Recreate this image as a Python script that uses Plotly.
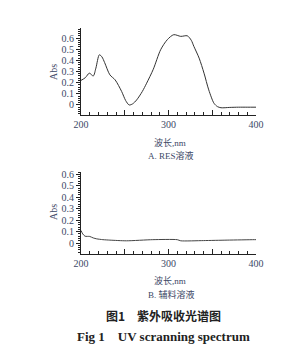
import plotly.graph_objects as go

# Panel A: RES solution
wl_a = [200, 205, 209.5, 214, 217, 221, 224, 227, 233, 239, 246.5, 251, 255, 259, 263.6,
        270, 275, 282.6, 291, 298.6, 306, 314, 321.5, 326, 329, 335, 340.6, 346, 352,
        356, 360, 370, 380, 390, 400]
abs_a = [0.22, 0.245, 0.285, 0.26, 0.33, 0.45, 0.43, 0.38, 0.27, 0.225, 0.12, 0.04, 0.0,
         0.01, 0.045, 0.12, 0.195, 0.32, 0.495, 0.585, 0.63, 0.615, 0.62, 0.58, 0.525,
         0.42, 0.285, 0.135, 0.015, -0.015, -0.025, -0.022, -0.02, -0.02, -0.02]

# Panel B: excipient solution
wl_b = [200, 202, 204.6, 210, 214, 218, 225, 233, 252, 282, 310, 314, 340, 367, 398, 400]
abs_b = [0.11, 0.08, 0.06, 0.058, 0.045, 0.037, 0.03, 0.026, 0.02, 0.03, 0.03, 0.02,
         0.022, 0.026, 0.03, 0.03]

y_ticks = [0, 0.1, 0.2, 0.3, 0.4, 0.5, 0.6]
y_tick_text = ["0", "0.1", "0.2", "0.3", "0.4", "0.5", "0.6"]
x_ticks = [200, 250, 300, 350, 400]
x_tick_text = ["200", "", "300", "", "400"]

W, H = 308, 350
SERIF = "Liberation Serif, Noto Sans CJK SC"
TXT = "#3c4866"
LINE = "#222"

fig = go.Figure()
fig.add_trace(go.Scatter(x=wl_a, y=abs_a, mode="lines", line=dict(color="#333", width=1, shape="spline", smoothing=0.8),
                         xaxis="x", yaxis="y", showlegend=False, hoverinfo="skip"))
fig.add_trace(go.Scatter(x=wl_b, y=abs_b, mode="lines", line=dict(color="#444", width=1, shape="spline", smoothing=0.6),
                         xaxis="x2", yaxis="y2", showlegend=False, hoverinfo="skip"))

def px(v):
    return v / W

def py(v):
    return 1 - v / H

xdom = [px(81), px(256)]

def xaxis(anchor):
    return dict(domain=xdom, range=[200, 400], anchor=anchor, automargin=False,
                showline=True, linecolor=LINE, linewidth=1,
                showgrid=False, zeroline=False, tickmode="array", tickvals=x_ticks, ticktext=x_tick_text,
                ticks="inside", ticklen=5, tickcolor=LINE, tickwidth=1,
                tickfont=dict(family=SERIF, size=10, color=TXT),
                minor=dict(dtick=10, tick0=200, ticks="inside", ticklen=3, tickcolor=LINE, showgrid=False))

def yaxis(anchor, dom, rng):
    return dict(domain=dom, range=rng, anchor=anchor, automargin=False,
                showline=True, linecolor=LINE, linewidth=1.2,
                showgrid=False, zeroline=False, tickmode="array", tickvals=y_ticks, ticktext=y_tick_text,
                ticks="outside", ticklen=4, tickcolor=LINE, tickwidth=1,
                tickfont=dict(family=SERIF, size=10, color=TXT),
                minor=dict(dtick=0.02, tick0=0, ticks="outside", ticklen=2, tickcolor=LINE, showgrid=False))

fig.update_layout(
    width=W, height=H, margin=dict(l=0, r=0, t=0, b=0),
    paper_bgcolor="white", plot_bgcolor="white",
    xaxis=xaxis("y"),
    yaxis=yaxis("x", [py(115), py(28)], [-0.09, 0.69]),
    xaxis2=xaxis("y2"),
    yaxis2=yaxis("x2", [py(254), py(172)], [-0.095, 0.62]),
)

def note(text, x, y, size, color=TXT, angle=0, bold=False, family=SERIF):
    if bold:
        text = "<b>" + text + "</b>"
    fig.add_annotation(text=text, x=px(x), y=py(y), xref="paper", yref="paper", showarrow=False,
                       xanchor="center", yanchor="middle", textangle=angle,
                       font=dict(family=family, size=size, color=color))

note("Abs", 53, 72, 10, angle=-90)
note("Abs", 53, 212, 10, angle=-90)
note("波长,nm", 170, 142, 9)
note("A. RES溶液", 171, 155, 9)
note("波长,nm", 170, 280, 9)
note("B. 辅料溶液", 171, 294, 9)
note("图1\u2003紫外吸收光谱图", 163, 315, 12, color="#222", bold=True, family="Noto Sans CJK SC")
note("Fig 1\u2003UV scranning spectrum", 163, 336, 13, color="#222", bold=True)

fig.write_html("out.html")
